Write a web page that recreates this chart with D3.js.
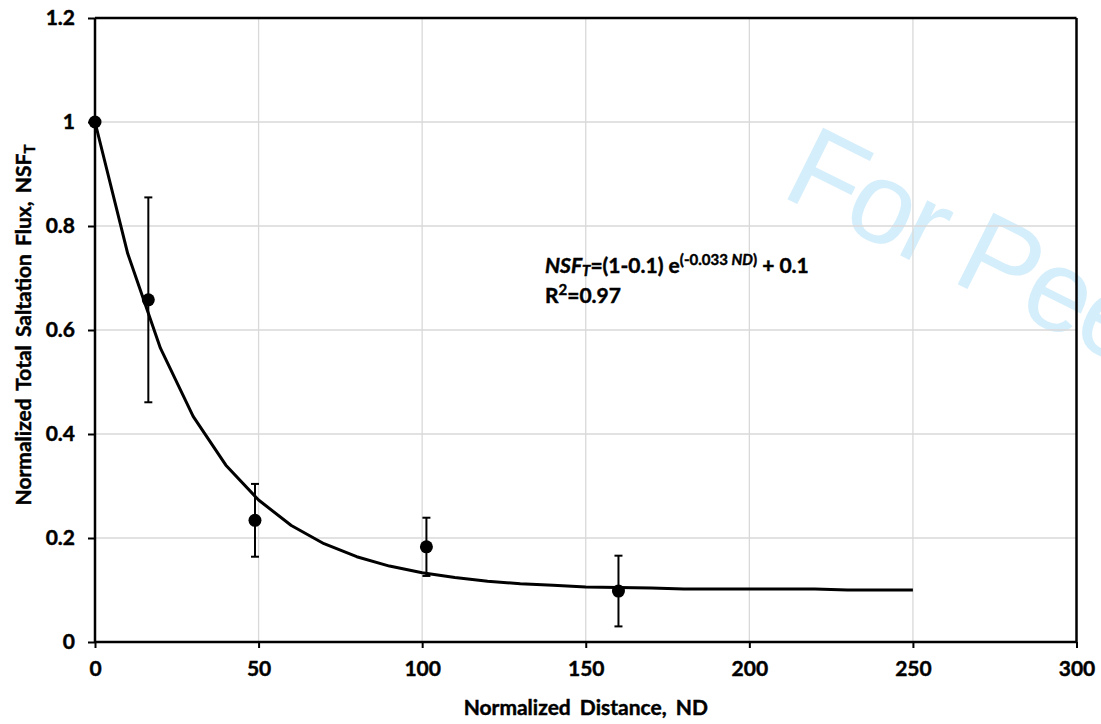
<!DOCTYPE html>
<html>
<head>
<meta charset="utf-8">
<script src="https://cdn.jsdelivr.net/npm/d3@7"></script>
<style>
  html, body { margin: 0; padding: 0; background: #fff; }
  svg { display: block; font-family: Lato, "Open Sans", sans-serif; }
  .bt { stroke: #000; stroke-width: 0.45px; }
</style>
</head>
<body>
<svg id="chart" width="1101" height="724"></svg>
<script>
// ---- data ----
const pointX   = [0, 16.3, 48.9, 101.3, 160.0];
const pointY   = [1.000, 0.658, 0.234, 0.183, 0.098];
const pointErr = [0, 0.197, 0.070, 0.056, 0.068];

const curveX = [0, 10, 20, 30, 40, 50, 60, 70, 80, 90, 100, 110, 120, 130, 140, 150, 160, 170, 180, 190, 200, 210, 220, 230, 240, 250];
const curveY = [1.000, 0.747, 0.565, 0.434, 0.340, 0.273, 0.224, 0.189, 0.164, 0.146, 0.133, 0.124, 0.117, 0.112, 0.109, 0.106, 0.105, 0.104, 0.102, 0.102, 0.102, 0.102, 0.102, 0.100, 0.100, 0.100];

const xTicks = [0, 50, 100, 150, 200, 250, 300];
const xTickLabels = ["0", "50", "100", "150", "200", "250", "300"];
const yTicks = [0, 0.2, 0.4, 0.6, 0.8, 1.0, 1.2];
const yTickLabels = ["0", "0.2", "0.4", "0.6", "0.8", "1", "1.2"];

const xTitle = "Normalized Distance, ND";
const yTitle = "Normalized Total Saltation Flux, NSF";
const watermark = "For Peer Review";

// ---- layout ----
const svg = d3.select("#chart");
const L = 95, R = 1076.5, T = 18, B = 642;
const x = d3.scaleLinear().domain([0, 300]).range([L, R]);
const y = d3.scaleLinear().domain([0, 1.2]).range([B, T]);

// watermark (behind everything)
svg.append("text")
  .attr("transform", "translate(779,195) rotate(26.5)")
  .attr("font-family", "'Liberation Sans', Arial, sans-serif")
  .attr("font-weight", 400)
  .attr("font-size", 116)
  .attr("letter-spacing", -4)
  .attr("fill", "#d5eefb")
  .text(watermark);

// gridlines
const grid = svg.append("g");
grid.selectAll("line.vx").data(xTicks.slice(1, -1)).enter().append("line")
  .attr("x1", d => x(d)).attr("x2", d => x(d))
  .attr("y1", T).attr("y2", B)
  .attr("stroke", "#d9d9d9").attr("stroke-width", 1.3);
grid.selectAll("line.hy").data(yTicks.slice(1, -1)).enter().append("line")
  .attr("x1", L).attr("x2", R)
  .attr("y1", d => y(d)).attr("y2", d => y(d))
  .attr("stroke", "#d9d9d9").attr("stroke-width", 1.3);

// frame top/right
svg.append("line").attr("x1", L).attr("x2", R).attr("y1", T).attr("y2", T)
  .attr("stroke", "#000").attr("stroke-width", 2.5);
svg.append("line").attr("x1", R).attr("x2", R).attr("y1", T).attr("y2", B)
  .attr("stroke", "#000").attr("stroke-width", 2.5);

// axes
const xAxis = d3.axisBottom(x).tickValues(xTicks)
  .tickFormat((d, i) => xTickLabels[i]).tickSize(6).tickPadding(13);
const yAxis = d3.axisLeft(y).tickValues(yTicks)
  .tickFormat((d, i) => yTickLabels[i]).tickSize(7).tickPadding(13);

const gx = svg.append("g").attr("transform", `translate(0,${B})`).call(xAxis);
const gy = svg.append("g").attr("transform", `translate(${L},0)`).call(yAxis);
[gx, gy].forEach(g => {
  g.select(".domain").attr("stroke", "#000").attr("stroke-width", 2.5);
  g.selectAll(".tick line").attr("stroke", "#000").attr("stroke-width", 2);
  g.selectAll(".tick text").attr("fill", "#000").attr("class", "bt")
    .attr("font-family", "Lato, sans-serif")
    .attr("font-weight", "bold").attr("font-size", 21);
});
gx.select(".domain").attr("d", `M${L},0H${R}`);
gy.select(".domain").attr("d", `M0,${B}V${T}`);

// fitted curve
svg.append("path")
  .datum(curveX.map((d, i) => [d, curveY[i]]))
  .attr("fill", "none").attr("stroke", "#000").attr("stroke-width", 3)
  .attr("stroke-linejoin", "round")
  .attr("d", d3.line().x(d => x(d[0])).y(d => y(d[1])));

// error bars
const pts = pointX.map((d, i) => ({ x: d, y: pointY[i], e: pointErr[i] }));
const eb = svg.append("g").attr("stroke", "#000").attr("stroke-width", 2);
pts.filter(p => p.e > 0).forEach(p => {
  eb.append("line").attr("x1", x(p.x)).attr("x2", x(p.x))
    .attr("y1", y(p.y - p.e)).attr("y2", y(p.y + p.e));
  [p.y - p.e, p.y + p.e].forEach(v => {
    eb.append("line").attr("x1", x(p.x) - 4).attr("x2", x(p.x) + 4)
      .attr("y1", y(v)).attr("y2", y(v));
  });
});

// points
svg.append("g").selectAll("circle").data(pts).enter().append("circle")
  .attr("cx", d => x(d.x)).attr("cy", d => y(d.y)).attr("r", 6.5)
  .attr("fill", "#000");

// axis titles
svg.append("text").attr("class", "bt")
  .attr("x", (L + R) / 2).attr("y", 715)
  .attr("text-anchor", "middle")
  .attr("font-weight", "bold").attr("font-size", 21)
  .attr("word-spacing", 4)
  .text(xTitle);

const yt = svg.append("text").attr("class", "bt")
  .attr("transform", "translate(31,325) rotate(-90)")
  .attr("text-anchor", "middle")
  .attr("font-weight", "bold").attr("font-size", 21)
  .attr("word-spacing", 3);
yt.append("tspan").text(yTitle);
yt.append("tspan").attr("font-size", 15).attr("dy", 4).text("T");

// equation annotation
const eq = svg.append("text").attr("class", "bt").attr("x", 545).attr("y", 273)
  .attr("font-weight", "bold").attr("font-size", 21).attr("fill", "#000");
eq.append("tspan").attr("font-style", "italic").text("NSF");
eq.append("tspan").attr("font-style", "italic").attr("font-size", 15).attr("dy", 3).text("T");
eq.append("tspan").attr("dy", -3).text("=(1-0.1) e");
eq.append("tspan").attr("font-size", 15).attr("dy", -8).text("(-0.033 ");
eq.append("tspan").attr("font-size", 15).attr("font-style", "italic").text("ND");
eq.append("tspan").attr("font-size", 15).text(")");
eq.append("tspan").attr("dy", 8).text(" + 0.1");

const r2 = svg.append("text").attr("class", "bt").attr("x", 545).attr("y", 303)
  .attr("font-weight", "bold").attr("font-size", 21).attr("fill", "#000");
r2.append("tspan").text("R");
r2.append("tspan").attr("font-size", 15).attr("dy", -8).text("2");
r2.append("tspan").attr("dy", 8).text("=0.97");
</script>
</body>
</html>
